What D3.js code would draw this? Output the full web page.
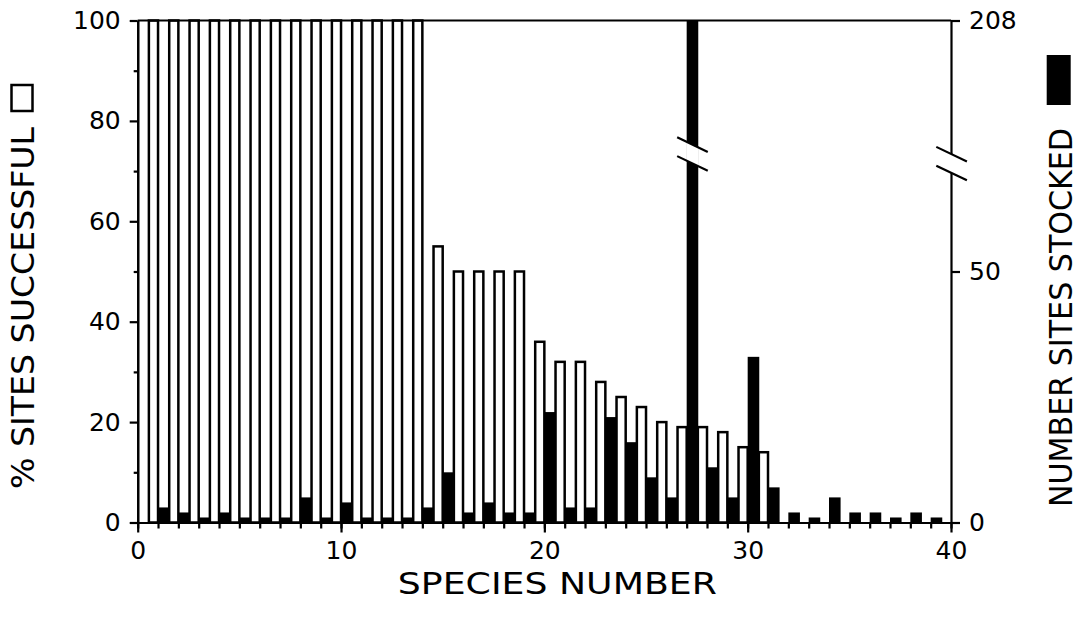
<!DOCTYPE html>
<html>
<head>
<meta charset="utf-8">
<script src="https://cdn.jsdelivr.net/npm/d3@7"></script>
<style>
  body { margin: 0; background: #fff; }
  svg text { font-family: "DejaVu Sans", sans-serif; fill: #000; }
</style>
</head>
<body>
<script>
// species positions along the x axis
var species = d3.range(40);
// % of sites where stocking was successful (open bars), species 0..30
var pctSuccess = [100, 100, 100, 100, 100, 100, 100, 100, 100, 100,
                  100, 100, 100, 100, 55, 50, 50, 50, 50, 36,
                  32, 32, 28, 25, 23, 20, 19, 19, 18, 15, 14];
// number of sites stocked (black bars), species 0..39
var nStocked = [0, 3, 2, 1, 2, 1, 1, 1, 5, 1,
                4, 1, 1, 1, 3, 10, 2, 4, 2, 2,
                22, 3, 3, 21, 16, 9, 5, 208, 11, 5,
                33, 7, 2, 1, 5, 2, 2, 1, 2, 1];
var leftTicks = [0, 20, 40, 60, 80, 100];
var leftMinor = [10, 30, 50, 70, 90];
var rightTicks = [0, 50, 208];
var xTicks = [0, 10, 20, 30, 40];

var margin = {top: 20.5, right: 129, bottom: 98.5, left: 137.7};
var width = 1080 - margin.left - margin.right;
var height = 621 - margin.top - margin.bottom;

var svg = d3.select("body").append("svg")
    .attr("width", 1080)
    .attr("height", 621);
var g = svg.append("g")
    .attr("transform", "translate(" + margin.left + "," + margin.top + ")");

var x = d3.scaleLinear().domain([0, 40]).range([0, width]);
var yL = d3.scaleLinear().domain([0, 100]).range([height, 0]);
// right axis shares the left scale up to 50, then jumps (broken) to 208
var yR = d3.scaleLinear().domain([0, 50, 208]).range([height, yL(50), 0]);

var openW = 0.45;   // open bar occupies the right part of each unit
var fillW = 0.57;   // black bar occupies the left part

// open bars
g.selectAll("rect.open")
  .data(species.filter(function(s) { return pctSuccess[s] > 0; }))
  .enter().append("rect")
    .attr("class", "open")
    .attr("x", function(s) { return x(s + 1 - openW); })
    .attr("width", function(s) { return x(s + 1) - x(s + 1 - openW); })
    .attr("y", function(s) { return yL(pctSuccess[s]); })
    .attr("height", function(s) { return height - yL(pctSuccess[s]); })
    .attr("fill", "#fff")
    .attr("stroke", "#000")
    .attr("stroke-width", 2.5);

// black bars
g.selectAll("rect.stocked")
  .data(species.filter(function(s) { return nStocked[s] > 0; }))
  .enter().append("rect")
    .attr("class", "stocked")
    .attr("x", function(s) { return x(s); })
    .attr("width", function(s) { return x(s + fillW) - x(s); })
    .attr("y", function(s) { return yR(nStocked[s]); })
    .attr("height", function(s) { return height - yR(nStocked[s]); })
    .attr("fill", "#000");

// frame top line
g.append("line")
  .attr("x1", 0).attr("x2", width)
  .attr("y1", 0).attr("y2", 0)
  .attr("stroke", "#000").attr("stroke-width", 2.2);

function styleAxis(sel, size) {
  sel.attr("font-family", "DejaVu Sans").attr("font-size", size);
  sel.selectAll("path, line").attr("stroke", "#000").attr("stroke-width", 2.2);
}

// left axis
g.append("g")
  .call(d3.axisLeft(yL).tickValues(leftMinor).tickSize(4).tickSizeOuter(0).tickFormat(""))
  .call(styleAxis, 25);
g.append("g")
  .call(d3.axisLeft(yL).tickValues(leftTicks).tickSize(8).tickSizeOuter(0).tickPadding(9))
  .call(styleAxis, 25);

// bottom axis
g.append("g")
  .attr("transform", "translate(0," + height + ")")
  .call(d3.axisBottom(x).tickValues(species.concat([40])).tickSize(6).tickSizeOuter(0).tickFormat(""))
  .call(styleAxis, 25);
g.append("g")
  .attr("transform", "translate(0," + height + ")")
  .call(d3.axisBottom(x).tickValues(xTicks).tickSize(10).tickSizeOuter(0).tickPadding(9))
  .call(styleAxis, 25);

// right axis
g.append("g")
  .attr("transform", "translate(" + width + ",0)")
  .call(d3.axisRight(yR).tickValues(rightTicks).tickSize(9).tickSizeOuter(0).tickPadding(9))
  .call(styleAxis, 25);

// break marks: a slanted pair with a white gap between
function drawBreak(cx, cy, gapLeft, gapRight) {
  var hw = 15.3, sl = 7.3, off = 9.4;
  g.append("polygon")
    .attr("points", [
      [gapLeft, cy - off + sl * (gapLeft - cx) / hw],
      [gapRight, cy - off + sl * (gapRight - cx) / hw],
      [gapRight, cy + off + sl * (gapRight - cx) / hw],
      [gapLeft, cy + off + sl * (gapLeft - cx) / hw]
    ].map(function(p) { return p.join(","); }).join(" "))
    .attr("fill", "#fff");
  [-off, off].forEach(function(o) {
    g.append("line")
      .attr("x1", cx - hw).attr("y1", cy + o - sl)
      .attr("x2", cx + hw).attr("y2", cy + o + sl)
      .attr("stroke", "#000").attr("stroke-width", 2.2);
  });
}
species.filter(function(s) { return nStocked[s] > 50; }).forEach(function(s) {
  var cx = x(s + fillW / 2);
  drawBreak(cx, height * 0.266, x(s) - 0.5, x(s + fillW) + 0.5);
});
drawBreak(width + 0.6, height * 0.285, width - 2, width + 2);

// axis titles
g.append("text")
  .attr("x", width / 2 + 13)
  .attr("y", height + 71)
  .attr("text-anchor", "middle")
  .attr("font-size", 30)
  .attr("textLength", 319)
  .attr("lengthAdjust", "spacingAndGlyphs")
  .text("SPECIES NUMBER");

svg.append("text")
  .attr("transform", "translate(34,308) rotate(-90)")
  .attr("text-anchor", "middle")
  .attr("font-size", 32)
  .attr("textLength", 362)
  .attr("lengthAdjust", "spacingAndGlyphs")
  .text("% SITES SUCCESSFUL");
svg.append("rect")
  .attr("x", 11.5).attr("y", 85)
  .attr("width", 21).attr("height", 26)
  .attr("fill", "#fff").attr("stroke", "#000").attr("stroke-width", 2.5);

svg.append("text")
  .attr("transform", "translate(1071.5,317.5) rotate(-90)")
  .attr("text-anchor", "middle")
  .attr("font-size", 32)
  .attr("textLength", 379)
  .attr("lengthAdjust", "spacingAndGlyphs")
  .text("NUMBER SITES STOCKED");
svg.append("rect")
  .attr("x", 1046.7).attr("y", 55)
  .attr("width", 24).attr("height", 50)
  .attr("fill", "#000");
</script>
</body>
</html>
